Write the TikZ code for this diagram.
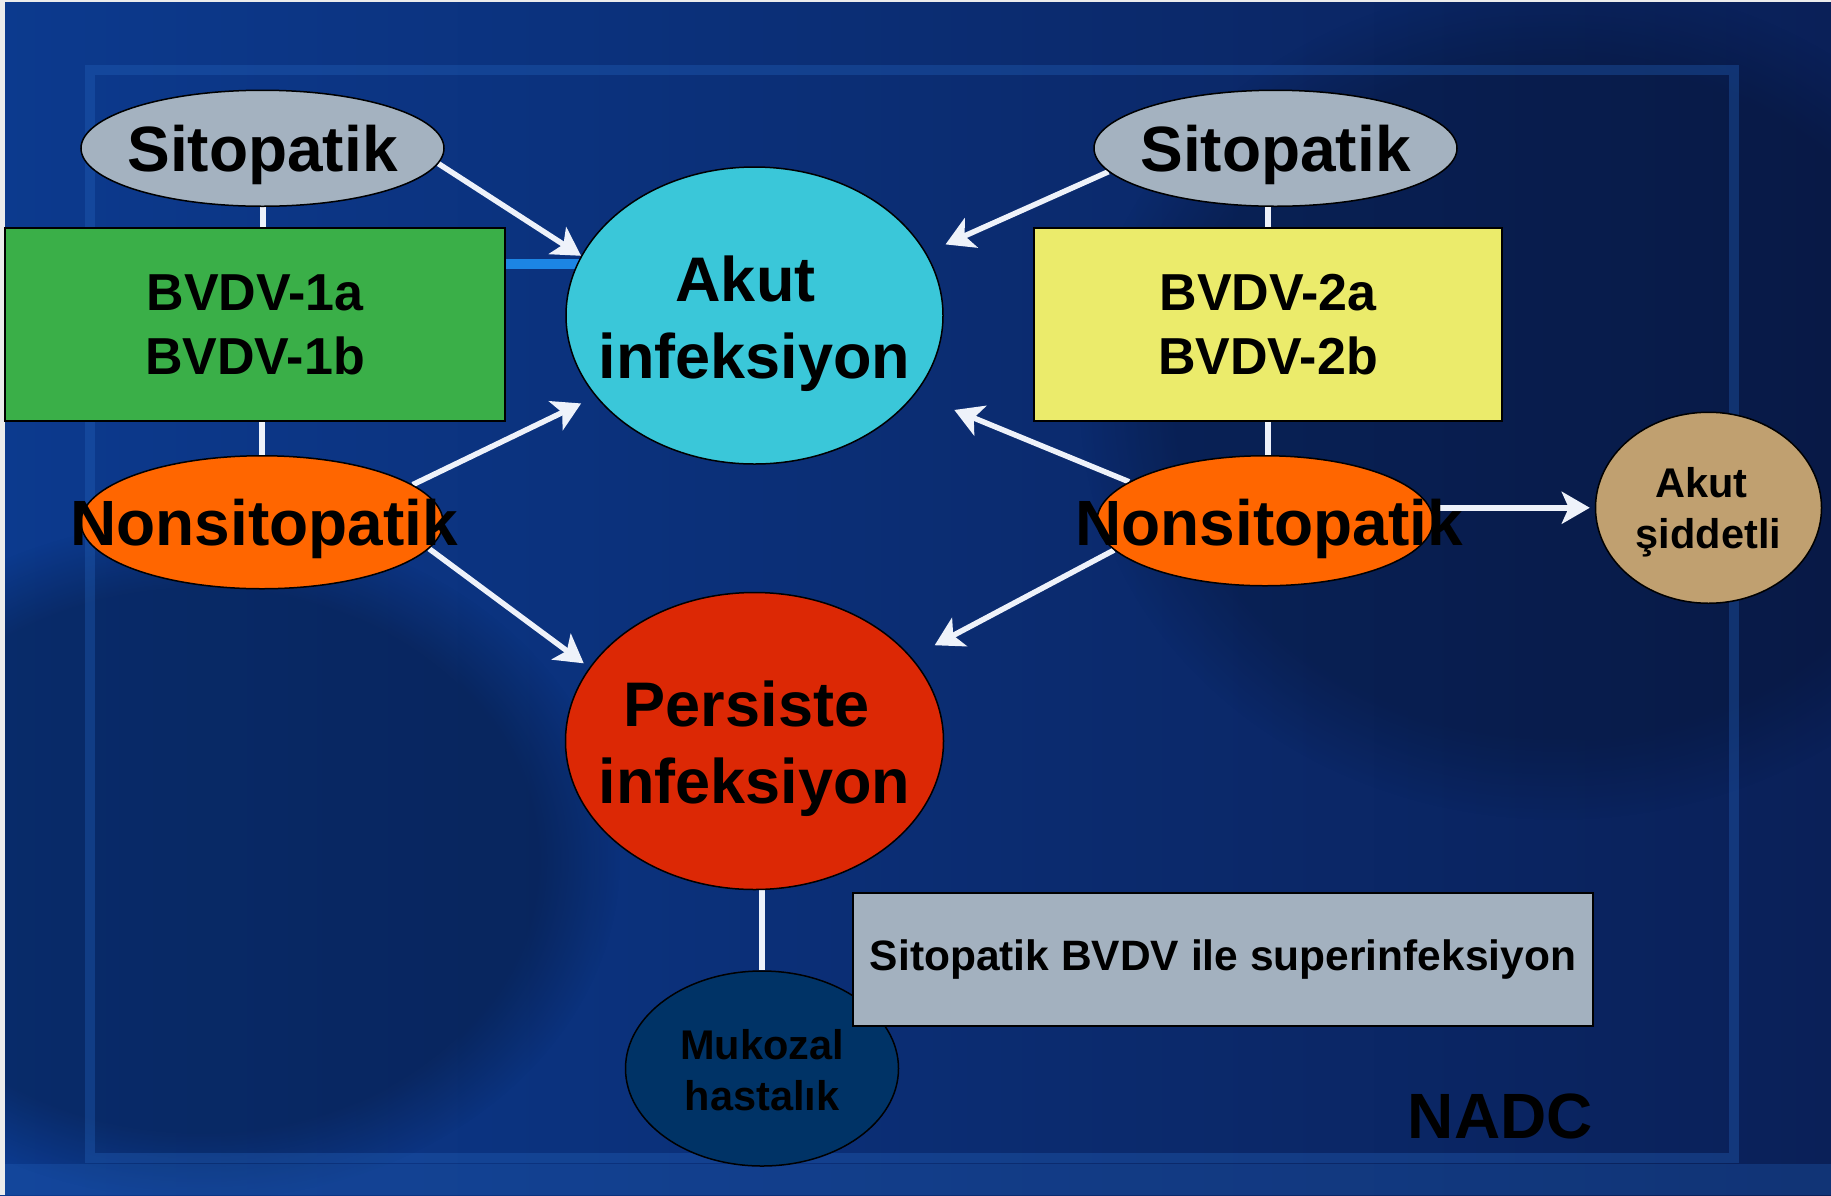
\documentclass[tikz,border=0pt]{standalone}
\usepackage{fontspec}
\setmainfont{Liberation Sans}
\usetikzlibrary{positioning, shapes.geometric, arrows.meta, fadings}

\definecolor{bgmain}{HTML}{0B2D7A}
\definecolor{bgleft}{HTML}{0C3A8E}
\definecolor{bgmid}{HTML}{0E40A0}
\definecolor{bgright}{HTML}{0A2058}
\definecolor{framec}{HTML}{2463BC}
\definecolor{sitogray}{HTML}{A4B2C0}
\definecolor{grpgreen}{HTML}{3AAF48}
\definecolor{grpyellow}{HTML}{EBEB6B}
\definecolor{nonsorange}{HTML}{FF6600}
\definecolor{akutcyan}{HTML}{3AC7D9}
\definecolor{perred}{HTML}{DC2805}
\definecolor{siddtan}{HTML}{C0A070}
\definecolor{mukonavy}{HTML}{003366}
\definecolor{superfill}{HTML}{A3B1BF}
\definecolor{wirewhite}{HTML}{EEF2FA}
\definecolor{glowblue}{HTML}{1E8FF0}

\newcommand\fsbig{\fontsize{64}{76}\selectfont\bfseries}
\newcommand\fsmid{\fontsize{63}{77}\selectfont\bfseries}
\newcommand\fsgrp{\fontsize{52}{64}\selectfont\bfseries}
\newcommand\fssmall{\fontsize{41.5}{51}\selectfont\bfseries}
\newcommand\fsnote{\fontsize{42.5}{51}\selectfont\bfseries}

\pgfdeclarelayer{backdrop}
\pgfdeclarelayer{wires}
\pgfsetlayers{backdrop,wires,main}

\tikzset{
  bubble/.style={ellipse, draw=black, line width=1.5pt, inner sep=0pt},
  grp/.style={rectangle, draw=black, line width=2pt, font=\fsgrp, align=center,
    minimum height=193pt},
  arr/.style={draw=wirewhite, line width=5.5pt,
    -{Stealth[length=28pt, width=32pt, inset=7pt]}},
  wire/.style={draw=wirewhite, line width=6pt},
}

\begin{document}
\begin{tikzpicture}[x=1pt, y=-1pt]
  \useasboundingbox (0,0) rectangle (1831,1195);

  % Backdrop
  \begin{pgfonlayer}{backdrop}
    \fill[bgmain] (0,0) rectangle (1831,1195);
    \shade[left color=bgleft, middle color=bgmid, right color=bgright]
      (0,0) rectangle (1831,1195);
    \fill[black, opacity=.25, path fading=circle with fuzzy edge 20 percent]
      (200,860) ellipse (420 and 340);
    \fill[black, opacity=.2, path fading=circle with fuzzy edge 20 percent]
      (1560,400) ellipse (480 and 420);
    \draw[framec, line width=10pt, opacity=.35] (90,70) rectangle (1734,1158);
    \fill[framec, opacity=.3] (0,1164) rectangle (1831,1195);
    \fill[gray!15] (0,0) rectangle (5,1195);
    \fill[gray!15] (0,0) rectangle (1831,2);
  \end{pgfonlayer}

  % Strain groups
  \node[grp, fill=grpgreen, minimum width=500pt]  (grpA) at (255,324.5)  {BVDV-1a\\BVDV-1b};
  \node[grp, fill=grpyellow, minimum width=468pt] (grpB) at (1268,324.5) {BVDV-2a\\BVDV-2b};

  % Biotypes
  \node[bubble, fill=sitogray, minimum width=363pt, minimum height=116pt,
    above=20pt of grpA, xshift=7.5pt,
    label={[font=\fsbig, yshift=-7pt]center:Sitopatik}] (sitoL) {};
  \node[bubble, fill=nonsorange, minimum width=362pt, minimum height=133pt,
    below=33pt of grpA, xshift=7pt,
    label={[font=\fsbig, yshift=-7pt, xshift=2pt]center:Nonsitopatik}] (nonsL) {};
  \node[bubble, fill=sitogray, minimum width=363pt, minimum height=116pt,
    above=20pt of grpB, xshift=7.5pt,
    label={[font=\fsbig, yshift=-7pt]center:Sitopatik}] (sitoR) {};
  \node[bubble, fill=nonsorange, minimum width=336pt, minimum height=130pt,
    below=33pt of grpB, xshift=-3pt,
    label={[font=\fsbig, yshift=-8pt, xshift=4pt]center:Nonsitopatik}] (nonsR) {};

  % Outcomes
  \node[bubble, fill=akutcyan, minimum width=377pt, minimum height=297pt,
    label={[font=\fsmid, align=center, yshift=-8pt]center:Akut\kern18pt\\infeksiyon}] (akut) at (754.5,315.5) {};
  \node[bubble, fill=perred, minimum width=378pt, minimum height=297pt,
    below=127pt of akut,
    label={[font=\fsmid, align=center, yshift=-8pt]center:Persiste\kern16pt\\infeksiyon}] (persiste) {};
  \node[bubble, fill=mukonavy, minimum width=273pt, minimum height=195pt,
    below=80pt of persiste, xshift=7.5pt,
    label={[font=\fssmall, align=center, yshift=-2pt]center:Mukozal\\hastalık}] (mukozal) {};
  \node[bubble, fill=siddtan, minimum width=226pt, minimum height=191pt,
    right=161pt of nonsR, yshift=13pt,
    label={[font=\fssmall, align=center, yshift=-5pt]center:Akut\kern14pt\\şiddetli}] (sidd) {};

  % Superinfection note
  \node[rectangle, draw=black, line width=2pt, fill=superfill, font=\fsnote,
    minimum width=740pt, minimum height=133pt] (super) at (1223,959.5)
    {Sitopatik BVDV ile superinfeksiyon};
  \node[font=\fsbig, anchor=base east, inner sep=0pt] (nadc) at (1593,1138) {NADC};

  % Edges
  \begin{pgfonlayer}{wires}
    \draw[glowblue, line width=10pt, opacity=.9]
      ([yshift=-37pt]grpA.north east) -- ([yshift=-37pt]grpA.north east -| akut.center);
    \draw[wire] (sitoL.south) -- (sitoL.south |- grpA.north);
    \draw[wire] (nonsL.north |- grpA.south) -- (nonsL.north);
    \draw[wire] (grpB.north) -- (grpB.north |- sitoR.south);
    \draw[wire] (grpB.south) -- (grpB.south |- nonsR.north);
    \draw[wire] (mukozal.north |- persiste.south) -- (mukozal.north);

    \draw[arr] (sitoL.-5) -- (akut.161);
    \draw[arr, shorten >=16pt] (nonsL.14) -- (akut.207);
    \draw[arr, shorten >=7pt] (nonsL.-9) -- (persiste.156);
    \draw[arr, shorten >=21pt] (sitoR.188) -- (akut.20);
    \draw[arr, shorten >=42pt] (nonsR.164) -- (akut.-26);
    \draw[arr, shorten >=26pt] (nonsR.191) -- (persiste.28);
    \draw[arr, shorten >=5pt] (nonsR.east |- sidd.west) -- (sidd.west);
  \end{pgfonlayer}

\end{tikzpicture}
\end{document}
